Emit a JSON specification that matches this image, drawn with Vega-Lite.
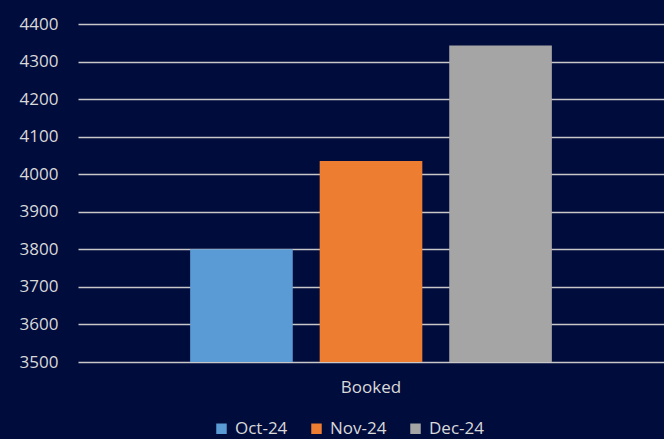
{
  "$schema": "https://vega.github.io/schema/vega-lite/v6.json",
  "autosize": {"type": "none"},
  "width": 586,
  "height": 338,
  "padding": {"left": 78, "top": 24, "right": 0, "bottom": 77},
  "background": "#000C3C",
  "config": {
    "view": {"stroke": null},
    "font": "Open Sans"
  },
  "data": {
    "values": [
      {"category": "Booked", "month": "Oct-24", "value": 3800},
      {"category": "Booked", "month": "Nov-24", "value": 4035},
      {"category": "Booked", "month": "Dec-24", "value": 4343}
    ]
  },
  "mark": {"type": "bar", "clip": true},
  "encoding": {
    "x": {
      "field": "category",
      "type": "nominal",
      "scale": {"paddingInner": 0, "paddingOuter": 0.31},
      "axis": {
        "title": null,
        "labelAngle": 0,
        "labelColor": "#D9D9D9",
        "labelFontSize": 17,
        "labelPadding": 17,
        "ticks": false,
        "domain": false
      }
    },
    "xOffset": {
      "field": "month",
      "type": "nominal",
      "sort": ["Oct-24", "Nov-24", "Dec-24"],
      "scale": {"paddingInner": 0.2077, "paddingOuter": 0}
    },
    "y": {
      "field": "value",
      "type": "quantitative",
      "scale": {"domain": [3500, 4400], "zero": false, "nice": false},
      "axis": {
        "title": null,
        "values": [3500, 3600, 3700, 3800, 3900, 4000, 4100, 4200, 4300, 4400],
        "format": "d",
        "labelOverlap": false,
        "labelColor": "#D9D9D9",
        "labelFontSize": 17,
        "labelPadding": 20,
        "ticks": false,
        "domain": false,
        "grid": true,
        "gridColor": "#C8C8C8",
        "gridWidth": 1.5
      }
    },
    "color": {
      "field": "month",
      "type": "nominal",
      "sort": ["Oct-24", "Nov-24", "Dec-24"],
      "scale": {"domain": ["Oct-24", "Nov-24", "Dec-24"], "range": ["#5B9BD5", "#ED7D31", "#A5A5A5"]},
      "legend": {
        "title": null,
        "orient": "none",
        "direction": "horizontal",
        "legendX": 135,
        "legendY": 396,
        "symbolType": "square",
        "symbolSize": 110,
        "symbolStrokeWidth": 0,
        "labelColor": "#D9D9D9",
        "labelFontSize": 17,
        "labelOffset": 5,
        "columnPadding": 20
      }
    }
  }
}
